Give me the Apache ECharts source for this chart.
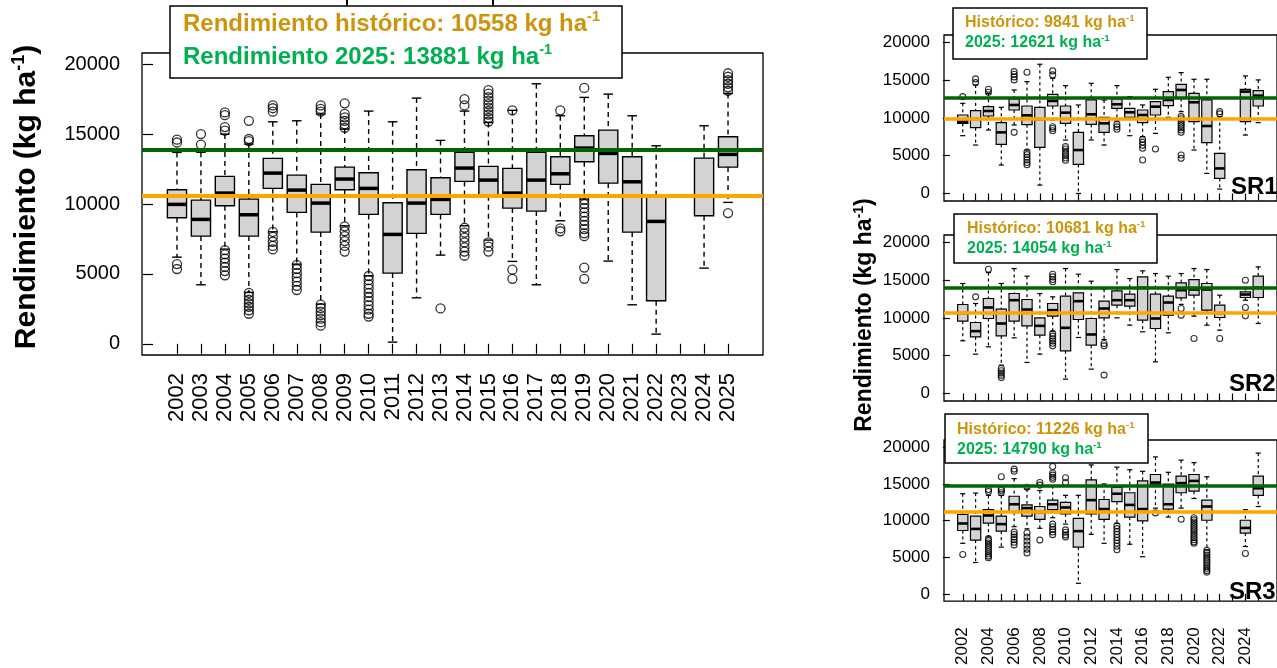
<!DOCTYPE html>
<html>
<head>
<meta charset="utf-8">
<script src="https://cdn.jsdelivr.net/npm/echarts@6/dist/echarts.min.js"></script>
<style>
  html, body { margin: 0; padding: 0; background: #fff; }
  #chart { width: 1277px; height: 668px; }
</style>
</head>
<body>
<div id="chart"></div>
<script>
// Campaign years (2023 has no data)
const years = ['2002','2003','2004','2005','2006','2007','2008','2009','2010','2011','2012','2013',
               '2014','2015','2016','2017','2018','2019','2020','2021','2022','2023','2024','2025'];

// Whole area: box statistics per year (kg/ha)
const totalLow  = [6200,4220,6774,3676,8011,5700,2840,8440,4865,122,3290,6345,8440,7418,5894,4220,8800,10350,5915,2790,694,null,5415,10115];
const totalQ1   = [9013,7704,9872,7704,11115,9399,7990,11016,9256,5057,7897,9256,11616,10587,9707,9492,11402,13020,11495,7990,3076,null,9156,12640];
const totalMed  = [9971,8898,10780,9230,12210,10994,10064,11784,11116,7825,10064,10329,12568,11710,10780,11710,12160,14000,13620,11588,8755,null,null,13548];
const totalQ3   = [11016,10279,11974,10350,13262,12067,11402,12640,12232,10086,12447,11874,13691,12690,12546,13691,13376,14880,15286,13376,10658,null,13283,14807];
const totalHigh = [13691,13700,15000,14285,15880,15952,16430,15358,16645,15880,17575,14549,16645,15830,16700,18598,16310,17625,17860,16310,14163,null,15595,17910];
const totalOut  = [
  [14600,14400,5700,5350],
  [15000,14250],
  [16550,16350,15500,15250,6700,6400,6100,5800,5500,5200,4900],
  [15950,14650,14500,3650,3400,3150,2900,2650,2400,2150],
  [17050,16850,16600,8000,7650,7300,7000,6750],
  [5650,5350,5050,4750,4450,4150,3850],
  [17050,16800,16600,2800,2550,2300,2050,1800,1550,1300],
  [17200,16450,16200,15950,15700,15450,8400,8050,7700,7350,7000,6600],
  [4850,4550,4250,3950,3650,3350,3050,2750,2450,2150,1950],
  [],
  [],
  [2530],
  [17500,17050,8300,7950,7600,7250,6900,6600,6300],
  [18150,17900,17650,17400,17150,16900,16650,16400,16150,15900,7250,6950,6600],
  [16700,5300,4650],
  [],
  [16700,8250,8050],
  [18300,10300,10000,9700,9400,9100,8800,8500,8200,7900,7700,5450,4650],
  [],
  [],
  [],
  [],
  [],
  [19350,19100,18850,18600,18350,18100,9350]
];
const totalHist = 10558;
const total2025 = 13881;

// SR1
const sr1Low  = [7655,6416,8407,3761,9071,5752,1106,9735,7080,0,7080,6416,9602,7655,7522,7965,10088,10841,5752,2655,575,null,7743,9380];
const sr1Q1   = [9292,8717,10265,6504,11062,9115,6106,11593,9292,3850,9159,8097,11283,10088,9380,10398,11637,12611,9513,6726,1991,null,9513,11593];
const sr1Med  = [9513,9870,10929,8097,11726,10354,9850,12257,10708,5752,10487,9292,11814,10752,10398,11504,12389,13717,12080,8938,3319,null,13500,12965];
const sr1Q3   = [10398,10973,11504,9380,12522,11593,11416,13141,11593,8097,12389,10088,12522,11283,11062,12168,13496,14469,13274,12389,5310,null,13805,13628];
const sr1High = [11947,14380,13274,11416,13717,14823,17124,15265,14292,11726,14602,12389,14292,12832,11726,13805,15398,16018,15133,15133,10177,null,15575,15044];
const sr1Out  = [
  [12830],[15180,14690],[13810,13410],[],[16150,15800,15450,15050,8097],
  [16060,5500,5150,4800,4450,4100,3800],[],[16240,15710,8850,8600,8320],
  [6200,5900,5600,5300,5000,4700,4400],[],[],[],[9160,8830,8500],[],
  [7170,6800,6400,6000,4430],[5885],[],[10180,9900,9600,9300,9000,8700,8400,8100,5100,4650],
  [],[],[10840,10550],[],[],[]
];
const sr1Hist = 9841;
const sr12025 = 12621;

// SR2
const sr2Low  = [6976,5210,6181,3753,7373,4106,5210,8256,1898,7417,3223,7152,10022,9051,8168,4194,8035,11800,10243,9051,8389,null,12362,9272];
const sr2Q1   = [9581,7506,9934,7638,9581,8962,7726,10243,5651,9801,6402,10022,11700,11567,9713,8609,10375,12671,13024,11038,10066,null,12715,12715];
const sr2Med  = [10650,8256,11391,9272,12362,11126,8962,11038,8697,12230,7815,11258,12362,12362,14000,9934,12053,13687,13775,13775,10650,null,13112,14000];
const sr2Q3   = [11788,9404,12583,11170,13245,12450,10022,11921,12892,13333,9934,12230,13598,13157,15453,13157,12892,14658,15099,14570,11700,null,13466,15541];
const sr2High = [14570,11920,16026,14570,16556,15541,13245,12804,16556,15806,14879,13819,16424,15232,16247,15894,15541,15894,16556,16424,13024,null,14040,16777];
const sr2Out  = [
  [],[12804],[16468],[3300,3000,2700,2400,2100],[],[],[],
  [15800,15450,15100,14800,7950,7600,7250,6950,6650,6310],[],[],[],[6620,6310,2430],
  [],[],[],[],[],[11258,10375],[7285],[],[7285],[],[15011,11391,10287],[]
];
const sr2Hist = 10681;
const sr22025 = 14054;

// SR3
const sr3Low  = [6900,4279,7773,6376,9170,8865,8952,10393,9520,1441,8122,6900,9607,6769,5066,11703,10480,11703,13013,6026,null,null,6463,11921];
const sr3Q1   = [8646,7336,9650,8559,11135,10611,10175,11485,10917,6376,10917,10175,12576,10480,9956,14978,11572,13799,14017,10044,null,null,8297,13450];
const sr3Med  = [9607,8865,10699,9520,12227,11703,11150,12227,11790,8559,12795,11572,13668,12140,11572,15197,12227,15109,15415,11921,null,null,8996,14410];
const sr3Q3   = [10830,10611,11485,10611,13319,12140,11921,12795,12489,10306,15546,12882,14541,13799,15415,16288,14978,16070,16288,12795,null,null,10044,16070];
const sr3High = [13668,13755,13450,13450,15721,14323,14105,14760,13450,13450,17598,15000,17293,16943,16725,18690,16594,18253,17904,15983,null,null,11485,19214];
const sr3Out  = [
  [5371],[],[14236,13974,7550,7250,6950,6650,6350,6050,5750,5450,5150,4934],
  [15983,14323,14100,13799],[17031,16725,8428,8100,7750,7400,7050,6681],
  [14541,8297,7750,7200,6650,6100,5590],[15196,14847,7336],
  [17380,16500,16200,15900,15633,9520,9150,8800,8450,8079],
  [15852,15197,8734,8400,8050,7773],[],[],[],
  [9301,8900,8500,8100,7700,7300,6900,6500,6026],[],[],[11048],[],[10175],
  [10393,10100,9800,9500,9200,8900,8600,8300,8000,7700,7400,7100,6900],
  [5939,5600,5300,5000,4700,4400,4100,3800,3500,3200,2969],[],[],[5502],[]
];
const sr3Hist = 11226;
const sr32025 = 14790;

const yTicks = [0, 5000, 10000, 15000, 20000];
const FONT = '"Liberation Sans", Arial, Helvetica, sans-serif';
const GOLD = '#CD950C';
const GREEN_TXT = '#00B050';

// Category positions 1..24 on a numeric axis with R-style padding
const xPos = years.map((_, i) => i + 1);
const xMin = -0.46, xMax = 25.46;

function boxData(lo, q1, md, q3, hi) {
  const out = [];
  for (let i = 0; i < years.length; i++) {
    if (q1[i] == null) continue;
    out.push([i + 1, lo[i], q1[i], md[i] == null ? NaN : md[i], q3[i], hi[i]]);
  }
  return out;
}
function outlierData(list) {
  const pts = [];
  list.forEach((vals, i) => vals.forEach(v => pts.push([i + 1, v])));
  return pts;
}

function boxRenderer(cfg) {
  return function (params, api) {
    const x = api.value(0);
    const lo = api.value(1), q1 = api.value(2), md = api.value(3), q3 = api.value(4), hi = api.value(5);
    const half = api.size([0.8, 0])[0] / 2;
    const cap = half * 0.5;
    const cx = api.coord([x, q1])[0];
    const y = v => api.coord([x, v])[1];
    const wStyle = { stroke: '#000', lineWidth: cfg.lw, lineDash: cfg.dash, fill: null };
    const sStyle = { stroke: '#000', lineWidth: cfg.lw, fill: null };
    const kids = [
      { type: 'line', shape: { x1: cx, y1: y(hi), x2: cx, y2: y(q3) }, style: wStyle },
      { type: 'line', shape: { x1: cx, y1: y(q1), x2: cx, y2: y(lo) }, style: wStyle },
      { type: 'line', shape: { x1: cx - cap, y1: y(hi), x2: cx + cap, y2: y(hi) }, style: sStyle },
      { type: 'line', shape: { x1: cx - cap, y1: y(lo), x2: cx + cap, y2: y(lo) }, style: sStyle },
      { type: 'rect', shape: { x: cx - half, y: y(q3), width: 2 * half, height: y(q1) - y(q3) },
        style: { fill: '#D3D3D3', stroke: '#000', lineWidth: cfg.lw } }
    ];
    if (!isNaN(md)) {
      kids.push({ type: 'line', shape: { x1: cx - half, y1: y(md), x2: cx + half, y2: y(md) },
        style: { stroke: '#000', lineWidth: cfg.medLw } });
    }
    return { type: 'group', children: kids };
  };
}

// Panel layouts
const panels = [
  { name: 'total', grid: { left: 142, top: 53, width: 621, height: 302 }, yMin: -800, yMax: 20800,
    low: totalLow, q1: totalQ1, med: totalMed, q3: totalQ3, high: totalHigh, out: totalOut,
    hist: totalHist, now: total2025,
    style: { lw: 1.4, dash: [5, 4], medLw: 3.5, pt: 9, ptLw: 1.3, refLw: 4, tick: 10, yFont: 20, yMargin: 22,
             xFont: 22, xMargin: 18, xLabels: xPos } },
  { name: 'sr1', grid: { left: 944, top: 35, width: 345, height: 166 }, yMin: -1000, yMax: 21000,
    low: sr1Low, q1: sr1Q1, med: sr1Med, q3: sr1Q3, high: sr1High, out: sr1Out,
    hist: sr1Hist, now: sr12025,
    style: { lw: 1.2, dash: [3, 3], medLw: 2.6, pt: 6, ptLw: 1.1, refLw: 3.5, tick: 7, yFont: 17, yMargin: 14,
             xFont: 17, xMargin: 26, xLabels: null } },
  { name: 'sr2', grid: { left: 944, top: 235, width: 345, height: 166 }, yMin: -1000, yMax: 21000,
    low: sr2Low, q1: sr2Q1, med: sr2Med, q3: sr2Q3, high: sr2High, out: sr2Out,
    hist: sr2Hist, now: sr22025,
    style: { lw: 1.2, dash: [3, 3], medLw: 2.6, pt: 6, ptLw: 1.1, refLw: 3.5, tick: 7, yFont: 17, yMargin: 14,
             xFont: 17, xMargin: 26, xLabels: null } },
  { name: 'sr3', grid: { left: 944, top: 440, width: 345, height: 166 }, yMin: -1000, yMax: 21000,
    low: sr3Low, q1: sr3Q1, med: sr3Med, q3: sr3Q3, high: sr3High, out: sr3Out,
    hist: sr3Hist, now: sr32025,
    style: { lw: 1.2, dash: [3, 3], medLw: 2.6, pt: 6, ptLw: 1.1, refLw: 3.5, tick: 7, yFont: 17, yMargin: 14,
             xFont: 17, xMargin: 26, xLabels: xPos.filter(v => v % 2 === 1) } }
];

const grids = [], xAxes = [], yAxes = [], series = [];
panels.forEach((p, i) => {
  const s = p.style;
  grids.push(Object.assign({ show: true, borderColor: '#000', borderWidth: 1.3, backgroundColor: 'transparent' }, p.grid));
  xAxes.push({
    type: 'value', gridIndex: i, min: xMin, max: xMax,
    axisLine: { show: false }, splitLine: { show: false },
    axisTick: { show: true, customValues: xPos, length: s.tick, lineStyle: { color: '#000', width: 1.2 } },
    axisLabel: s.xLabels ? {
      show: true, customValues: s.xLabels, rotate: 90, margin: s.xMargin,
      fontSize: s.xFont, color: '#000', fontFamily: FONT,
      formatter: v => years[Math.round(v) - 1]
    } : { show: false }
  });
  yAxes.push({
    type: 'value', gridIndex: i, min: p.yMin, max: p.yMax,
    axisLine: { show: false }, splitLine: { show: false },
    axisTick: { show: true, customValues: yTicks, length: s.tick, lineStyle: { color: '#000', width: 1.2 } },
    axisLabel: { show: true, customValues: yTicks, margin: s.yMargin, fontSize: s.yFont, color: '#000', fontFamily: FONT,
                 formatter: v => String(Math.round(v)) }
  });
  series.push({
    type: 'custom', name: p.name + '-box', xAxisIndex: i, yAxisIndex: i, z: 2, silent: true,
    renderItem: boxRenderer(s),
    encode: { x: 0, y: [1, 2, 3, 4, 5] },
    data: boxData(p.low, p.q1, p.med, p.q3, p.high)
  });
  series.push({
    type: 'scatter', name: p.name + '-out', xAxisIndex: i, yAxisIndex: i, z: 3, silent: true,
    symbol: 'circle', symbolSize: s.pt,
    itemStyle: { color: 'rgba(0,0,0,0)', borderColor: '#000', borderWidth: s.ptLw },
    data: outlierData(p.out),
    markLine: {
      silent: true, symbol: ['none', 'none'], label: { show: false }, animation: false,
      data: [
        { yAxis: p.hist, lineStyle: { color: '#FFA500', width: s.refLw, type: 'solid' } },
        { yAxis: p.now, lineStyle: { color: '#006400', width: s.refLw, type: 'solid' } }
      ]
    }
  });
});

function supText(main, tail, size, color, supSize) {
  return {
    text: '{a|' + main + '}{s|-1}' + (tail ? '{a|' + tail + '}' : ''),
    rich: {
      a: { fontSize: size, fontWeight: 'bold', fontFamily: FONT, fill: color, lineHeight: size * 1.15 },
      s: { fontSize: supSize, fontWeight: 'bold', fontFamily: FONT, fill: color, verticalAlign: 'top', lineHeight: size * 1.15, padding: [0, 0, size * 0.55, 0] }
    }
  };
}

function legendBox(x, y, w, h, textX, y1, y2, l1, l2, size) {
  return [
    { type: 'rect', z: 100, shape: { x: x, y: y, width: w, height: h }, style: { fill: '#fff', stroke: '#000', lineWidth: 1.5 } },
    { type: 'text', z: 101, x: textX, y: y1, style: Object.assign(supText(l1, '', size, GOLD, size * 0.6), { align: 'left', verticalAlign: 'middle' }) },
    { type: 'text', z: 101, x: textX, y: y2, style: Object.assign(supText(l2, '', size, GREEN_TXT, size * 0.6), { align: 'left', verticalAlign: 'middle' }) }
  ];
}

const graphic = [].concat(
  // strokes of the clipped heading above the left panel
  [{ type: 'rect', z: 100, shape: { x: 346, y: 0, width: 2, height: 7 }, style: { fill: '#000' } },
   { type: 'rect', z: 100, shape: { x: 492, y: 0, width: 2, height: 7 }, style: { fill: '#000' } }],
  legendBox(170, 6, 452, 72, 183, 24, 57,
    'Rendimiento histórico: ' + totalHist + ' kg ha', 'Rendimiento 2025: ' + total2025 + ' kg ha', 24),
  legendBox(953, 8, 194, 51, 965, 23, 43,
    'Histórico: ' + sr1Hist + ' kg ha', '2025: ' + sr12025 + ' kg ha', 16),
  legendBox(954, 214, 203, 49, 967, 229, 249,
    'Histórico: ' + sr2Hist + ' kg ha', '2025: ' + sr22025 + ' kg ha', 16),
  legendBox(945, 414, 203, 49, 957, 430, 450,
    'Histórico: ' + sr3Hist + ' kg ha', '2025: ' + sr32025 + ' kg ha', 16),
  [
    { type: 'text', z: 101, x: 27, y: 197, rotation: Math.PI / 2,
      style: Object.assign(supText('Rendimiento (kg ha', ')', 30, '#000', 18), { align: 'center', verticalAlign: 'middle' }) },
    { type: 'text', z: 101, x: 865, y: 315, rotation: Math.PI / 2,
      style: Object.assign(supText('Rendimiento (kg ha', ')', 23, '#000', 14), { align: 'center', verticalAlign: 'middle' }) },
    { type: 'text', z: 101, x: 1231, y: 187, style: { text: 'SR1', font: 'bold 24px ' + FONT, fill: '#000', align: 'left', verticalAlign: 'middle' } },
    { type: 'text', z: 101, x: 1229, y: 384, style: { text: 'SR2', font: 'bold 24px ' + FONT, fill: '#000', align: 'left', verticalAlign: 'middle' } },
    { type: 'text', z: 101, x: 1229, y: 592, style: { text: 'SR3', font: 'bold 24px ' + FONT, fill: '#000', align: 'left', verticalAlign: 'middle' } }
  ]
);

const chart = echarts.init(document.getElementById('chart'), null, { renderer: 'canvas' });
chart.setOption({
  animation: false,
  backgroundColor: '#fff',
  textStyle: { fontFamily: FONT },
  grid: grids,
  xAxis: xAxes,
  yAxis: yAxes,
  series: series,
  graphic: graphic
});
</script>
</body>
</html>
